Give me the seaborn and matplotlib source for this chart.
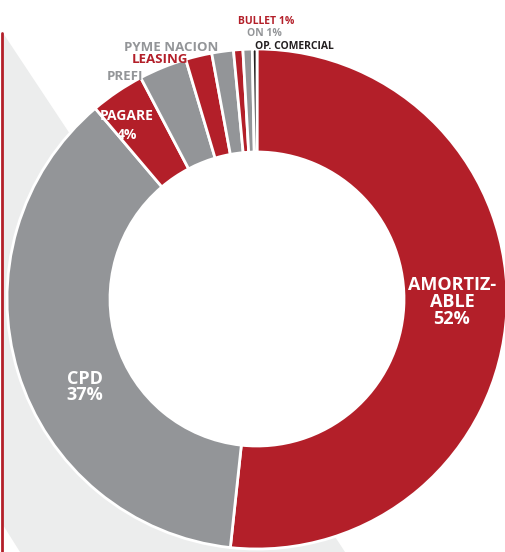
import numpy as np
import matplotlib
matplotlib.use("Agg")
import matplotlib.pyplot as plt
import seaborn as sns
from matplotlib.patches import Polygon, Circle

# data (share of portfolio, %)
categories = ["AMORTIZABLE", "CPD", "PAGARE", "PREFI", "LEASING",
              "PYME NACION", "BULLET", "ON", "OP. COMERCIAL"]
shares = [51.7, 37.1, 3.5, 3.1, 1.7, 1.4, 0.6, 0.6, 0.3]
pct_labels = ["52%", "37%", "4%", "", "", "", "1%", "1%", ""]

RED = "#B31F29"
GRAY = "#939598"
DARK = "#231F20"
LIGHT = "#ECEDED"
slice_colors = [RED, GRAY, RED, GRAY, RED, GRAY, RED, GRAY, DARK]

sns.set_style("white")
plt.rcParams["font.family"] = ["Open Sans", "DejaVu Sans"]

W, H = 506, 552
fig = plt.figure(figsize=(W / 100, H / 100), dpi=100)
ax = fig.add_axes([0, 0, 1, 1])


def py(y):
    # pixel row (from top) -> data y
    return H - y


# light background band and red rule on the left
bg = Polygon([(3, py(33)), (200, py(330)), (345, py(552)), (20, py(552)), (3, py(525))],
             closed=True, facecolor=LIGHT, edgecolor="none", zorder=0)
ax.add_patch(bg)
ax.plot([2, 2], [py(33), py(552)], color=RED, lw=2, zorder=1)

cx, cy, R, r = 257, py(299), 250, 147
wedges, _ = ax.pie(shares, colors=slice_colors, startangle=90, counterclock=False,
                   center=(cx, cy), radius=R, frame=True,
                   wedgeprops=dict(width=R - r, edgecolor="white", linewidth=2))
for w in wedges:
    w.set_zorder(2)
ax.add_patch(Circle((cx, cy), r, facecolor="white", edgecolor="none", zorder=1.5))

# labels inside slices
ax.text(452, py(302), "AMORTIZ-\nABLE\n" + pct_labels[0], color="white", fontsize=13,
        fontweight="bold", ha="center", va="center", linespacing=0.92, zorder=3)
ax.text(85, py(387), "CPD\n" + pct_labels[1], color="white", fontsize=13,
        fontweight="bold", ha="center", va="center", linespacing=0.85, zorder=3)
ax.text(127, py(116), "PAGARE", color="white", fontsize=10, fontweight="bold",
        ha="center", va="center", zorder=3)
ax.text(127, py(135), pct_labels[2], color="white", fontsize=10, fontweight="bold",
        ha="center", va="center", zorder=3)

# labels outside the ring
ax.text(125, py(76), "PREFI", color=GRAY, fontsize=9.5, fontweight="bold",
        ha="center", va="center", zorder=3)
ax.text(160, py(59), "LEASING", color=RED, fontsize=9.5, fontweight="bold",
        ha="center", va="center", zorder=3)
ax.text(171, py(47), "PYME NACION", color=GRAY, fontsize=9.5, fontweight="bold",
        ha="center", va="center", zorder=3)
ax.text(266, py(21), "BULLET " + pct_labels[6], color=RED, fontsize=7.5, fontweight="bold",
        ha="center", va="center", zorder=3)
ax.text(264, py(33), "ON " + pct_labels[7], color=GRAY, fontsize=7.5, fontweight="bold",
        ha="center", va="center", zorder=3)
ax.text(294, py(46), "OP. COMERCIAL", color=DARK, fontsize=7.5, fontweight="bold",
        ha="center", va="center", zorder=3)

ax.set_xlim(0, W)
ax.set_ylim(0, H)
ax.set_aspect("equal")
ax.axis("off")
fig.savefig("out.png", dpi=100)
